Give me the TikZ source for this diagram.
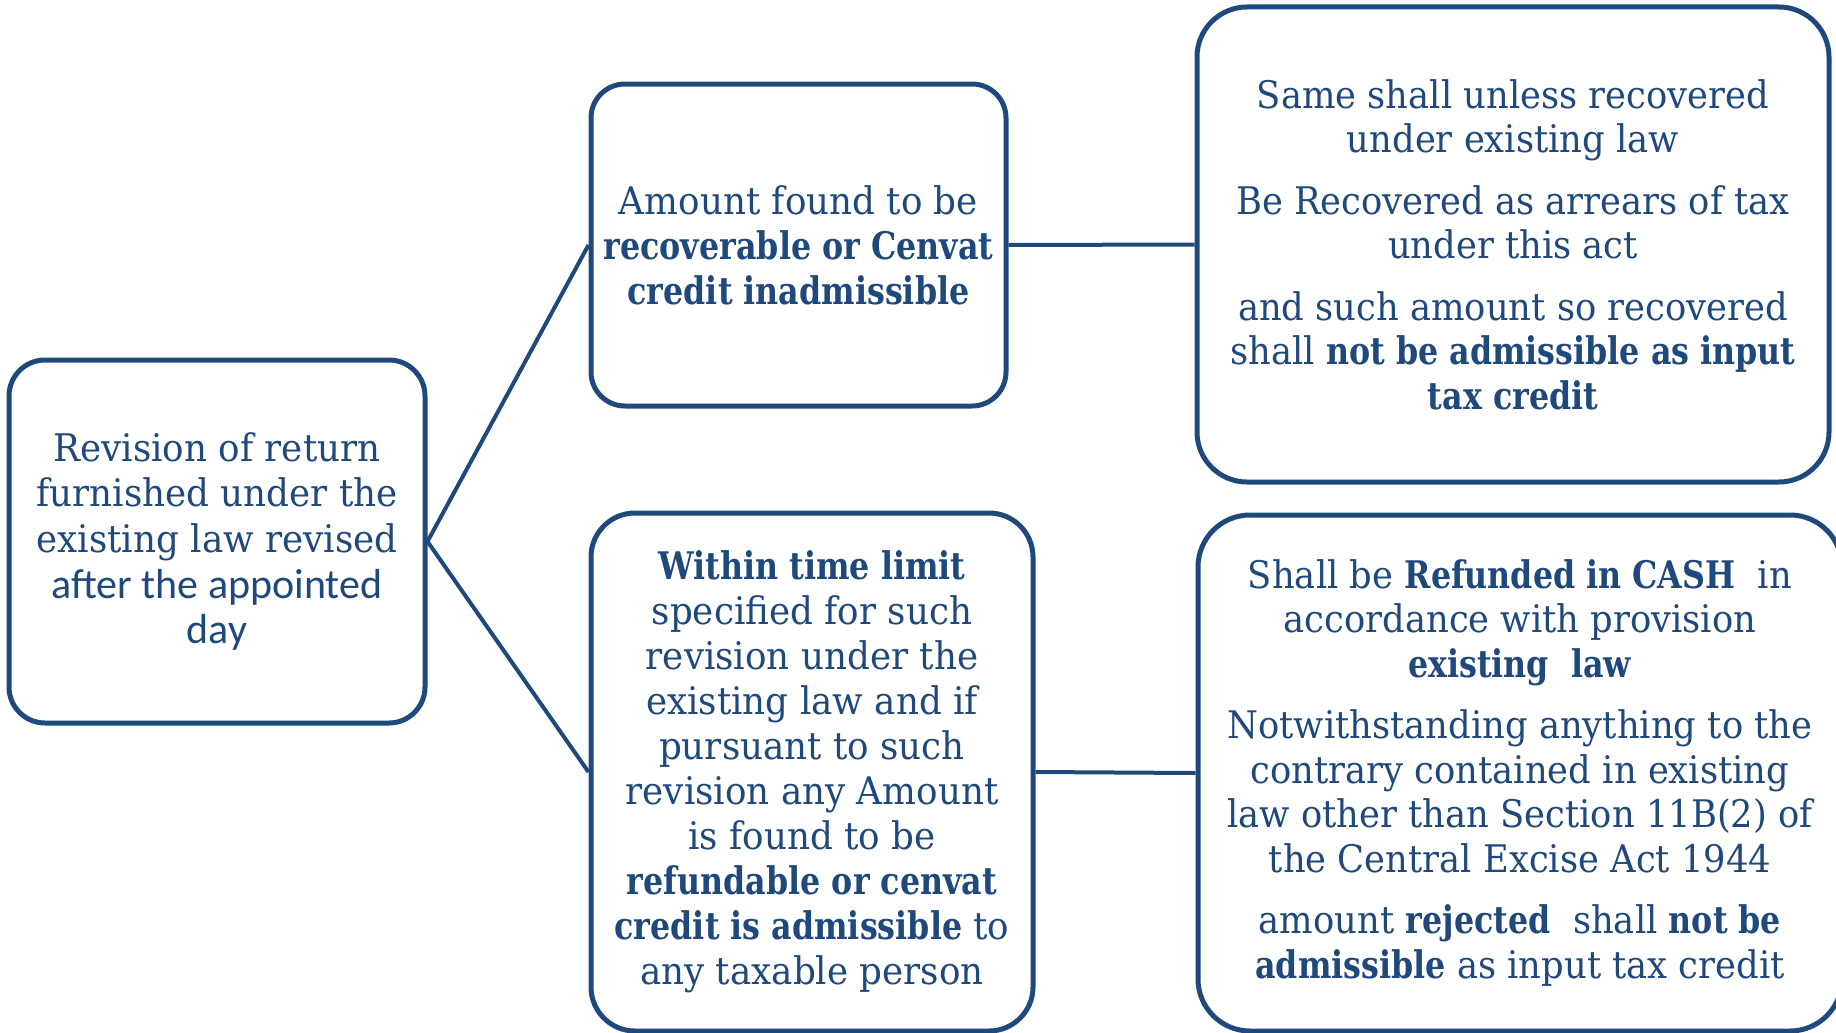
\documentclass[tikz,border=0pt]{standalone}
\usepackage{fontspec}
\setmainfont{DejaVu Serif}[FakeStretch=0.94, BoldFeatures={FakeStretch=0.835}]
\newfontfamily\condf{DejaVu Serif}[FakeStretch=0.93, BoldFeatures={FakeStretch=0.835}]
\newfontfamily\sansc{Carlito}
\definecolor{navy}{RGB}{31,73,125}
\begin{document}
\begin{tikzpicture}[x=1pt,y=-1pt,
  box/.style={draw=navy, line width=5pt, fill=white, text=navy, align=center,
    inner sep=0pt, rounded corners=#1},
  box/.default=30pt,
  link/.style={draw=navy, line width=4pt}]
\useasboundingbox (0,0) rectangle (1836,1033);
\node[box=36pt, minimum width=416pt, minimum height=363pt,
  font={\fontsize{38}{45.7}\selectfont}] (rev) at (217,541.5)
  {Revision of return\\ furnished under the\\ existing law revised\\
   {\sansc\fontsize{42}{45.7}\selectfont after the appointed}\\
   {\sansc\fontsize{42}{45.7}\selectfont day}};
\node[box=34pt, minimum width=415pt, minimum height=322pt,
  font={\fontsize{38}{45}\selectfont}] (amt) at (798.5,245)
  {Amount found to be\\ \textbf{recoverable or Cenvat}\\ \textbf{credit inadmissible}};
\node[box=44pt, minimum width=442pt, minimum height=518pt,
  font={\fontsize{38}{45}\selectfont}] (wit) at (812,772)
  {\textbf{Within time limit}\\ specified for such\\ revision under the\\
   existing law and if\\ pursuant to such\\ revision any Amount\\
   is found to be\\ \textbf{refundable or cenvat}\\
   \textbf{credit is admissible} to\\ any taxable person};
\node[box=50pt, minimum width=632pt, minimum height=475pt,
  font={\condf\fontsize{38}{44.5}\selectfont}] (same) at (1513,244.5)
  {Same shall unless recovered\\ under existing law\\[17pt]
   Be Recovered as arrears of tax\\ under this act\\[17pt]
   and such amount so recovered\\ shall \textbf{not be admissible as input}\\
   \textbf{tax credit}};
\node[box=52pt, minimum width=644pt, minimum height=516pt,
  font={\condf\fontsize{38}{44.5}\selectfont}] (ref) at (1520,773)
  {Shall be \textbf{Refunded in CASH}\ \ in\\ accordance with provision\\
   \textbf{existing\ \ law}\\[17pt]
   Notwithstanding anything to the\\ contrary contained in existing\\
   law other than Section 11B(2) of\\ the Central Excise Act 1944\\[17pt]
   amount \textbf{rejected}\ \ shall \textbf{not be}\\
   \textbf{admissible} as input tax credit};
\draw[link] (rev.east) -- (amt.west);
\draw[link] (rev.east) -- (wit.west);
\draw[link] (amt.east) -- (same.west);
\draw[link] (wit.east) -- (ref.west);
\end{tikzpicture}
\end{document}
